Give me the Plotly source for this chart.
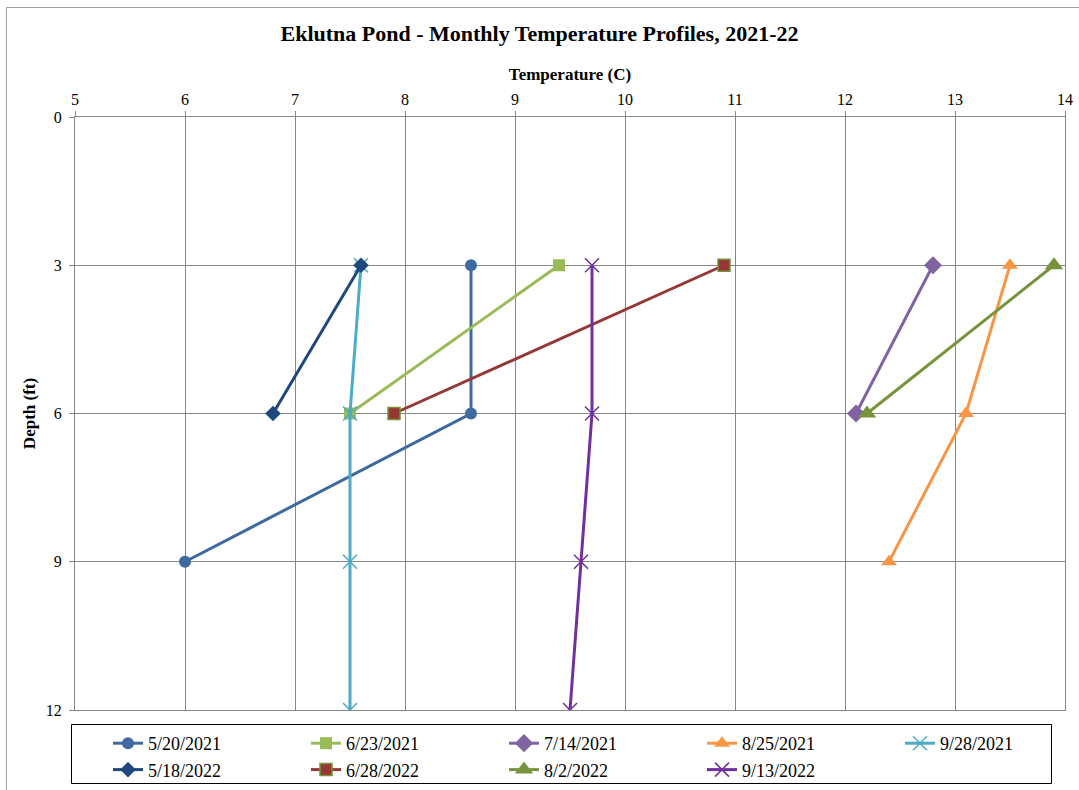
import plotly.graph_objects as go

series_names = ["5/20/2021", "6/23/2021", "7/14/2021", "8/25/2021", "9/28/2021",
                "5/18/2022", "6/28/2022", "8/2/2022", "9/13/2022"]
depths = {
    "5/20/2021": [3, 6, 9],
    "6/23/2021": [3, 6],
    "7/14/2021": [3, 6],
    "8/25/2021": [3, 6, 9],
    "9/28/2021": [3, 6, 9, 12],
    "5/18/2022": [3, 6],
    "6/28/2022": [3, 6],
    "8/2/2022": [3, 6],
    "9/13/2022": [3, 6, 9, 12],
}
temps = {
    "5/20/2021": [8.6, 8.6, 6.0],
    "6/23/2021": [9.4, 7.5],
    "7/14/2021": [12.8, 12.1],
    "8/25/2021": [13.5, 13.1, 12.4],
    "9/28/2021": [7.6, 7.5, 7.5, 7.5],
    "5/18/2022": [7.6, 6.8],
    "6/28/2022": [10.9, 7.9],
    "8/2/2022": [13.9, 12.2],
    "9/13/2022": [9.7, 9.7, 9.6, 9.5],
}
x_ticks = [5, 6, 7, 8, 9, 10, 11, 12, 13, 14]
y_ticks = [0, 3, 6, 9, 12]

styles = {
    "5/20/2021": dict(color="#3F6AA0", symbol="circle", size=12),
    "6/23/2021": dict(color="#9BBB59", symbol="square", size=12),
    "7/14/2021": dict(color="#8064A2", symbol="diamond", size=14),
    "8/25/2021": dict(color="#F79646", symbol="triangle-up", size=14),
    "9/28/2021": dict(color="#4BACC6", symbol="x-thin-open", size=14),
    "5/18/2022": dict(color="#1F497D", symbol="diamond", size=12),
    "6/28/2022": dict(color="#953735", symbol="square", size=12),
    "8/2/2022": dict(color="#77933C", symbol="triangle-up", size=16),
    "9/13/2022": dict(color="#7030A0", symbol="x-thin-open", size=14),
}

fig = go.Figure()
for name in series_names:
    s = styles[name]
    marker = dict(symbol=s["symbol"], size=s["size"], color=s["color"])
    if "x-thin" in s["symbol"]:
        marker["line"] = dict(color=s["color"], width=1.5)
    elif name == "6/28/2022":
        marker["line"] = dict(color="#77933C", width=1.5)
    else:
        marker["line"] = dict(width=0)
    fig.add_trace(go.Scatter(
        x=temps[name], y=depths[name], name=name, mode="lines+markers",
        line=dict(color=s["color"], width=3),
        marker=marker,
    ))

serif = "Liberation Serif, Times New Roman, Times, serif"
W, H = 1079, 790
L, T = 75, 117            # plot area left/top in px
PW, PH = 990, 593         # plot area size


def px_x(x):
    return (x - L) / PW


def px_y(y):
    return (T + PH - y) / PH


fig.update_layout(
    width=W, height=H,
    paper_bgcolor="white", plot_bgcolor="white",
    margin=dict(l=L, r=W - L - PW, t=T, b=H - T - PH, autoexpand=False),
    font=dict(family=serif, size=16, color="black"),
    title=dict(text="<b>Eklutna Pond - Monthly Temperature Profiles, 2021-22</b>",
               x=0.5, xanchor="center", xref="container",
               y=1 - 33 / H, yanchor="middle", yref="container",
               font=dict(family=serif, size=22, color="black")),
    xaxis=dict(
        side="top", range=[5, 14], tickvals=x_ticks, ticks="outside", ticklen=5,
        tickcolor="#878787", showgrid=True, gridcolor="#878787", gridwidth=1,
        showline=True, linecolor="#878787", linewidth=1, mirror=True, zeroline=False,
        tickfont=dict(family=serif, size=16), automargin=False,
        title=dict(text="<b>Temperature (C)</b>", font=dict(family=serif, size=17), standoff=5),
    ),
    yaxis=dict(
        range=[12, 0], tickvals=y_ticks, ticks="outside", ticklen=5,
        tickcolor="#878787", showgrid=True, gridcolor="#878787", gridwidth=1,
        showline=True, linecolor="#878787", linewidth=1, mirror=True, zeroline=False,
        tickfont=dict(family=serif, size=16), automargin=False, ticklabelstandoff=4,
        title=dict(text="<b>Depth (ft)</b>", font=dict(family=serif, size=17), standoff=5),
    ),
    legend=dict(
        orientation="h", xref="container", yref="container",
        x=108 / W, xanchor="left", y=1 - 725 / H, yanchor="top",
        borderwidth=0, bgcolor="rgba(0,0,0,0)",
        font=dict(family=serif, size=18), entrywidth=153, entrywidthmode="pixels",
        itemwidth=30, tracegroupgap=0,
    ),
    shapes=[
        dict(type="rect", xref="paper", yref="paper",
             x0=px_x(6.5), x1=px_x(W + 20), y0=px_y(H + 20), y1=px_y(7.5),
             line=dict(color="#A0A0A0", width=1), layer="below"),
        dict(type="rect", xref="paper", yref="paper",
             x0=px_x(71.5), x1=px_x(1051.5), y0=px_y(783.5), y1=px_y(724.5),
             line=dict(color="black", width=1), layer="below"),
    ],
)

fig.write_html(
    "out.html",
    config={"displayModeBar": False},
    post_script="document.body.style.margin='0';document.body.style.overflow='hidden';",
)
